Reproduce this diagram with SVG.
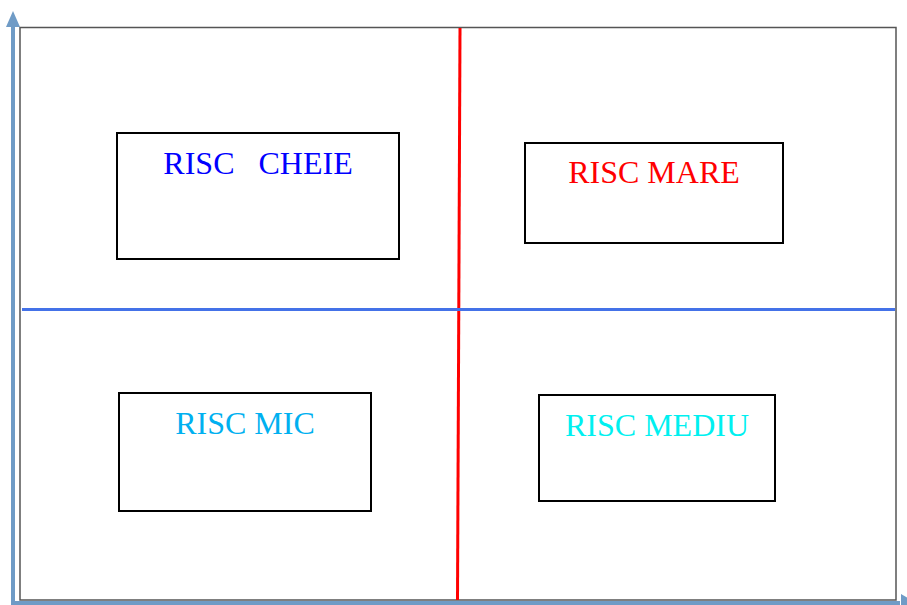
<svg xmlns="http://www.w3.org/2000/svg" width="907" height="605" viewBox="0 0 907 605">
<style>
.box{fill:#fff;stroke:#000;stroke-width:2}
.lbl{font-family:"Liberation Serif","Times New Roman",serif;font-size:32px;text-anchor:middle;white-space:pre}
.axis{stroke:#6F9BC6;stroke-width:4;fill:none}
</style>
<rect width="907" height="605" fill="#fff"/>
<rect x="20" y="27.5" width="876" height="572.5" fill="#fff" stroke="#555" stroke-width="1.5"/>
<g id="connectors">
<line x1="460" y1="28" x2="457.5" y2="600" stroke="#FF0000" stroke-width="3"/>
<line x1="22" y1="309.5" x2="895" y2="309.5" stroke="#4472E8" stroke-width="3"/>
<line class="axis" x1="13" y1="605" x2="13" y2="26"/>
<polygon points="6,27 20,27 13,11" fill="#6F9BC6"/>
<line class="axis" x1="11" y1="603" x2="900" y2="603"/>
<polygon points="901,594 901,612 917,603" fill="#6F9BC6"/>
</g>
<g id="cheie"><rect class="box" x="117" y="133" width="282" height="126"/><text class="lbl" x="258" y="174" fill="#0000FF" xml:space="preserve">RISC   CHEIE</text></g>
<g id="mare"><rect class="box" x="525" y="143" width="258" height="100"/><text class="lbl" x="654" y="183" fill="#FF0000">RISC MARE</text></g>
<g id="mic"><rect class="box" x="119" y="393" width="252" height="118"/><text class="lbl" x="245" y="434" fill="#00B0F0">RISC MIC</text></g>
<g id="mediu"><rect class="box" x="539" y="395" width="236" height="106"/><text class="lbl" x="657" y="436" fill="#00F0F0">RISC MEDIU</text></g>
</svg>
